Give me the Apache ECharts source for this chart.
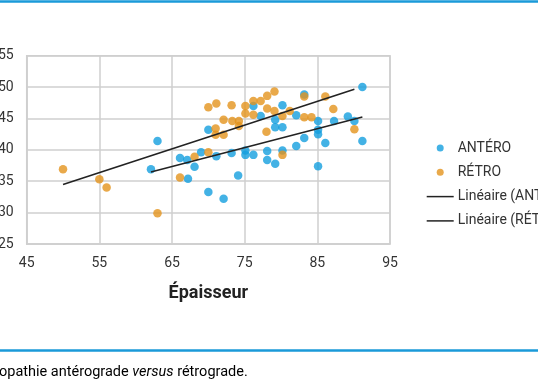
<!DOCTYPE html>
<html>
<head>
<meta charset="utf-8">
<script src="https://cdn.jsdelivr.net/npm/echarts@6/dist/echarts.min.js"></script>
<style>
html,body{margin:0;padding:0;background:#fff;}
#c{width:538px;height:384px;}
</style>
</head>
<body>
<div id="c"></div>
<script>
// Data: [épaisseur, y]
const anteroPoints = [
  [62.1,36.9],[63.0,41.4],[66.1,38.7],[67.1,38.4],[67.2,35.4],[68.1,37.3],[69.0,39.6],
  [70.0,43.2],[70.0,33.3],[71.1,39.0],[72.1,32.2],[73.2,39.5],[74.1,35.9],[75.1,39.2],
  [75.1,39.9],[76.2,39.2],[76.2,47.0],[77.2,45.4],[78.1,39.8],[78.1,38.4],[79.2,37.8],
  [79.2,43.6],[79.2,44.8],[80.2,47.1],[80.2,43.6],[80.2,39.9],[82.1,45.5],[82.1,40.6],
  [83.2,48.8],[83.2,41.9],[85.1,44.6],[85.1,43.2],[85.1,42.5],[85.1,37.4],[86.1,41.1],
  [87.3,44.6],[89.2,45.3],[90.1,44.6],[91.2,50.0],[91.2,41.4]
];
const retroPoints = [
  [50.0,36.9],[55.0,35.3],[56.0,34.0],[63.0,29.9],[66.1,35.6],[68.1,38.9],[70.0,46.8],
  [70.0,39.6],[71.1,47.4],[71.0,43.4],[71.0,42.4],[72.1,44.8],[72.1,42.4],[73.2,47.1],
  [73.3,44.6],[74.2,44.6],[74.2,43.8],[75.1,47.0],[75.1,45.8],[76.2,47.8],[76.2,45.6],
  [77.2,47.8],[78.1,48.6],[78.1,46.6],[78.0,42.9],[79.1,49.3],[79.1,46.2],[80.2,45.4],
  [80.2,39.2],[81.2,46.2],[83.2,48.5],[83.2,45.2],[84.2,45.2],[86.1,48.5],[87.2,46.5],
  [90.1,43.3]
];
const seriesNames = ['ANTÉRO','RÉTRO','Linéaire (ANTÉRO)','Linéaire (RÉTRO)'];
const xTicks = [45,55,65,75,85,95];
const yTicks = [25,30,35,40,45,50,55];

// least-squares trend line spanning the data range
function trend(pts){
  const n = pts.length;
  let sx=0, sy=0; pts.forEach(p=>{sx+=p[0]; sy+=p[1];});
  const mx=sx/n, my=sy/n;
  let sxy=0, sxx=0; pts.forEach(p=>{sxy+=(p[0]-mx)*(p[1]-my); sxx+=(p[0]-mx)*(p[0]-mx);});
  const b=sxy/sxx, a=my-b*mx;
  const xs=pts.map(p=>p[0]);
  const x0=Math.min(...xs), x1=Math.max(...xs);
  return [[x0,a+b*x0],[x1,a+b*x1]];
}

const BLUE='#149fde', ORANGE='#e3931d', GRID='#cfcfcf', FONT='Roboto';
const LINE_ICON='path://M0,0H27V1.5H0Z';
const chart = echarts.init(document.getElementById('c'), null, {renderer:'canvas'});
chart.setOption({
  animation:false,
  textStyle:{fontFamily:FONT},
  grid:{left:26.7, right:148, top:55.7, bottom:140, show:true, borderColor:GRID, borderWidth:1.5,
        containLabel:false, outerBoundsMode:'none'},
  xAxis:{
    type:'value', min:xTicks[0], max:xTicks[xTicks.length-1], interval:xTicks[1]-xTicks[0],
    name:'Épaisseur', nameLocation:'middle', nameGap:40.5,
    nameTextStyle:{fontFamily:FONT, fontSize:18, fontWeight:'bold', color:'#222'},
    axisLine:{show:true, lineStyle:{color:GRID, width:1.5}},
    axisTick:{show:false},
    axisLabel:{fontFamily:FONT, fontSize:14, color:'#333', margin:12.5},
    splitLine:{show:true, lineStyle:{color:GRID, width:1.5}}
  },
  yAxis:{
    type:'value', min:yTicks[0], max:yTicks[yTicks.length-1], interval:yTicks[1]-yTicks[0],
    axisLine:{show:true, lineStyle:{color:GRID, width:1.5}},
    axisTick:{show:false},
    axisLabel:{fontFamily:FONT, fontSize:14, color:'#333', margin:13},
    splitLine:{show:true, lineStyle:{color:GRID, width:1.5}}
  },
  legend:{
    orient:'vertical', left:421.7, top:136, itemWidth:27, itemHeight:7, itemGap:10.3,
    textStyle:{fontFamily:FONT, fontSize:14, color:'#333', padding:[0,0,0,-1]},
    data:[
      {name:seriesNames[0], icon:'circle'},
      {name:seriesNames[1], icon:'circle'},
      {name:seriesNames[2], icon:LINE_ICON},
      {name:seriesNames[3], icon:LINE_ICON}
    ]
  },
  series:[
    {name:seriesNames[0], type:'scatter', data:anteroPoints, symbolSize:8.5, itemStyle:{color:BLUE}, z:2},
    {name:seriesNames[1], type:'scatter', data:retroPoints, symbolSize:8.5, itemStyle:{color:ORANGE}, z:2},
    {name:seriesNames[2], type:'line', data:trend(anteroPoints), symbol:'none', lineStyle:{color:'#222', width:1.6}, itemStyle:{color:'#222'}, z:3},
    {name:seriesNames[3], type:'line', data:trend(retroPoints), symbol:'none', lineStyle:{color:'#222', width:1.6}, itemStyle:{color:'#222'}, z:3}
  ],
  graphic:[
    {type:'rect', shape:{x:0, y:0.3, width:538, height:2.5}, style:{fill:'#1a9ad9'}, silent:true},
    {type:'rect', shape:{x:0, y:349.3, width:538, height:2.5}, style:{fill:'#1a9ad9'}, silent:true},
    {type:'text', left:-1, top:364.5, style:{
      text:'{a|opathie antérograde }{i|versus}{a| rétrograde.}',
      rich:{
        a:{fontFamily:FONT, fontSize:14.5, color:'#222'},
        i:{fontFamily:FONT, fontSize:14.5, fontStyle:'italic', color:'#222'}
      }
    }}
  ]
});
</script>
</body>
</html>
